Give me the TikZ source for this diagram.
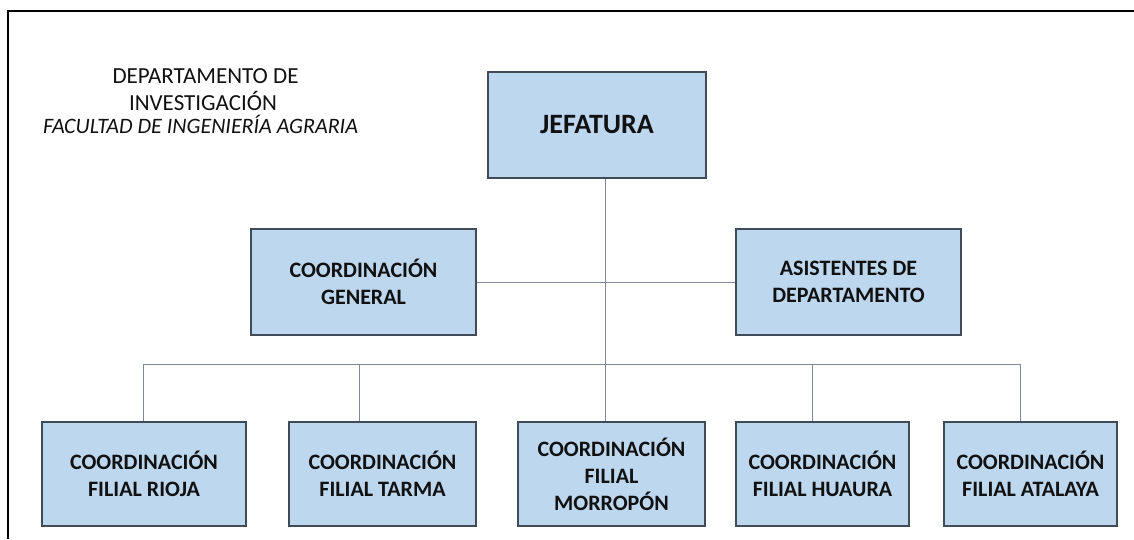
\documentclass[tikz,border=0pt]{standalone}
\usepackage{fontspec}
\setmainfont{Carlito}
\definecolor{boxfill}{HTML}{BDD7EE}
\definecolor{boxline}{HTML}{414B58}
\definecolor{conn}{HTML}{7F8A96}
\definecolor{txt}{HTML}{111111}
\tikzset{
  orgbox/.style={draw=boxline, line width=1.1pt, fill=boxfill, minimum height=106pt,
    align=center, inner sep=0pt, text=txt, font=\fontsize{22}{27}\selectfont\bfseries},
  link/.style={draw=conn, line width=1pt},
  titletxt/.style={anchor=base, inner sep=0pt, text=txt}
}
\begin{document}
\begin{tikzpicture}[x=1pt, y=-1pt]
\useasboundingbox (0,0) rectangle (1134,539);
% frame
\draw[line width=2.2pt, black] (8,539) -- (8,11) -- (1134,11);
% title
\node[titletxt, font=\fontsize{23}{27}\selectfont] (t1) at (205.5,83) {DEPARTAMENTO DE};
\node[titletxt, font=\fontsize{23}{27}\selectfont] (t2) at (203,110) {INVESTIGACIÓN};
\node[titletxt, font=\fontsize{22}{24}\selectfont\itshape] (t3) at (200.5,133) {FACULTAD DE INGENIERÍA AGRARIA};
% boxes
\node[orgbox, minimum width=218pt, font=\fontsize{28}{32}\selectfont\bfseries] (jef) at (597,125) {JEFATURA};
\node[orgbox, minimum width=225pt] (cg) at (363.5,282) {COORDINACIÓN\\GENERAL};
\node[orgbox, minimum width=225pt] (as) at (848.5,282) {ASISTENTES DE\\DEPARTAMENTO};
\node[orgbox, minimum width=204pt, minimum height=104pt] (rioja) at (144,474) {COORDINACIÓN\\FILIAL RIOJA};
\node[orgbox, minimum width=187pt, minimum height=104pt] (tarma) at (382.5,474) {COORDINACIÓN\\FILIAL TARMA};
\node[orgbox, minimum width=187pt, minimum height=104pt] (morr) at (611.5,474) {COORDINACIÓN\\FILIAL\\MORROPÓN};
\node[orgbox, minimum width=173pt, minimum height=104pt] (huaura) at (822.5,474) {COORDINACIÓN\\FILIAL HUAURA};
\node[orgbox, minimum width=173pt, minimum height=104pt] (atalaya) at (1030.5,474) {COORDINACIÓN\\FILIAL ATALAYA};
% bus coordinates
\coordinate (busL) at (143,364);
\coordinate (busT) at (359,364);
\coordinate (busM) at (605,364);
\coordinate (busH) at (812,364);
\coordinate (busR) at (1020,364);
% connectors
\draw[link] (jef.south -| busM) -- (morr.north -| busM);
\draw[link] (cg.east) -- (as.west);
\draw[link] (busL) -- (busR);
\draw[link] (busL) -- (rioja.north -| busL);
\draw[link] (busT) -- (tarma.north -| busT);
\draw[link] (busH) -- (huaura.north -| busH);
\draw[link] (busR) -- (atalaya.north -| busR);
\end{tikzpicture}
\end{document}
